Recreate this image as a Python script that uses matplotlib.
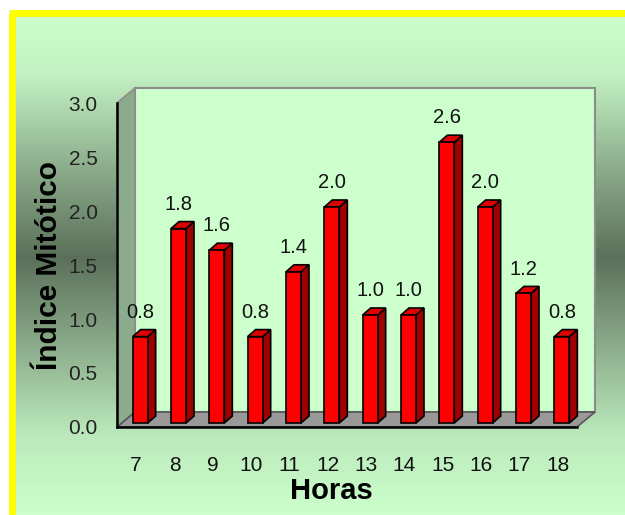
import numpy as np
import matplotlib
matplotlib.use("Agg")
import matplotlib.pyplot as plt
from matplotlib.colors import LinearSegmentedColormap
from matplotlib.patches import Polygon, Rectangle
from matplotlib.lines import Line2D

plt.rcParams['font.family'] = ['Liberation Sans', 'DejaVu Sans']

# --- data ---
horas = ['7', '8', '9', '10', '11', '12', '13', '14', '15', '16', '17', '18']
indice = [0.8, 1.8, 1.6, 0.8, 1.4, 2.0, 1.0, 1.0, 2.6, 2.0, 1.2, 0.8]

W, H = 625, 515
fig = plt.figure(figsize=(W / 100, H / 100), dpi=100)
fig.patch.set_facecolor('white')

# --- background: vertical green gradient inside the yellow frame ---
bg = fig.add_axes([9 / W, 0, 1 - 9 / W, 1 - 10 / H])
bg.set_axis_off()
stops = [(0.0, '#CCFFCC'), (0.13, '#C2F0C2'), (0.34, '#84A383'),
         (0.49, '#5B7059'), (0.64, '#84A383'), (0.84, '#BBE8BB'),
         (1.0, '#CCFFCC')]
cmap = LinearSegmentedColormap.from_list('bg', stops)
grad = np.linspace(0, 1, 512).reshape(-1, 1)
bg.imshow(grad, cmap=cmap, aspect='auto', extent=[0, 1, 0, 1], origin='upper')

# yellow frame (top and left)
fig.add_artist(Line2D([12 / W, 12 / W], [0, 1 - 13 / H], color='#FFFF00',
                      lw=5, transform=fig.transFigure, solid_capstyle='butt'))
fig.add_artist(Line2D([9.5 / W, 1], [1 - 13 / H, 1 - 13 / H], color='#FFFF00',
                      lw=5, transform=fig.transFigure, solid_capstyle='butt'))

# --- main axes (front plane of the 3D box) ---
ax = fig.add_axes([117 / W, 1 - 427 / H, 460 / W, 324 / H])
ax.patch.set_visible(False)
n = len(horas)
ax.set_xlim(-0.5, n - 0.5)
ax.set_ylim(0, 3)

# pixel -> data conversions
ux = n / 460.0
uy = 3 / 324.0
wall_dx, wall_dy = 18 * ux, 15 * uy

x_l, x_r = -0.5, n - 0.5
back = Rectangle((x_l + wall_dx, wall_dy), n, 3, facecolor='#CCFFCC',
                 edgecolor='#8C8C8C', lw=1.5, clip_on=False, zorder=1)
ax.add_patch(back)
side = Polygon([(x_l, 0), (x_l + wall_dx, wall_dy), (x_l + wall_dx, 3 + wall_dy),
                (x_l, 3)], closed=True, facecolor='#8CAA8C', edgecolor='#8C8C8C',
               lw=1.2, clip_on=False, zorder=1)
ax.add_patch(side)
floor = Polygon([(x_l, 0), (x_r, 0), (x_r + wall_dx, wall_dy), (x_l + wall_dx, wall_dy)],
                closed=True, facecolor='#999999', edgecolor='#555555', lw=1.2,
                clip_on=False, zorder=2)
ax.add_patch(floor)

# --- 3D bars ---
x = np.arange(n)
bw = 15 * ux
off_x, off_y = 4 * ux, 4 * uy
bdx, bdy = 8 * ux, 7 * uy
red, dark_red, top_red = '#FF0000', '#A00000', '#E00000'

ax.bar(x + off_x, indice, width=bw, bottom=off_y, color=red,
       edgecolor='black', lw=1.2, zorder=4, clip_on=False)
for xi, v in zip(x, indice):
    x1 = xi + off_x + bw / 2
    x0 = xi + off_x - bw / 2
    y1 = off_y + v
    ax.add_patch(Polygon([(x1, off_y), (x1 + bdx, off_y + bdy), (x1 + bdx, y1 + bdy), (x1, y1)],
                         closed=True, facecolor=dark_red, edgecolor='black', lw=1.2,
                         zorder=3, clip_on=False))
    ax.add_patch(Polygon([(x0, y1), (x1, y1), (x1 + bdx, y1 + bdy), (x0 + bdx, y1 + bdy)],
                         closed=True, facecolor=top_red, edgecolor='black', lw=1.2,
                         zorder=3, clip_on=False))
    ax.annotate(f'{v:.1f}', (xi + off_x, y1), xytext=(0, 17.5), textcoords='offset points',
                ha='center', va='center', fontsize=14.5, color='#111111', zorder=5)

# --- axes decoration ---
for s in ['top', 'right']:
    ax.spines[s].set_visible(False)
for s in ['left', 'bottom']:
    ax.spines[s].set_linewidth(1.8)
    ax.spines[s].set_color('black')
    ax.spines[s].set_zorder(6)

ax.set_xticks(x)
ax.set_xticklabels(horas)
ax.set_yticks(np.arange(0, 3.01, 0.5))
ax.set_yticklabels([f'{t:.1f}' for t in np.arange(0, 3.01, 0.5)])
ax.tick_params(axis='x', length=0, pad=21, labelsize=15, labelcolor='#111111')
ax.tick_params(axis='y', length=0, pad=14, labelsize=15, labelcolor='#222222')

ax.set_xlabel('Horas', fontsize=21, fontweight='bold')
ax.xaxis.set_label_coords(0.467, -0.155)
ax.set_ylabel('Índice Mitótico', fontsize=21.5, fontweight='bold')
ax.yaxis.set_label_coords(-0.117, 0.5)

fig.savefig('out.png', dpi=100)
